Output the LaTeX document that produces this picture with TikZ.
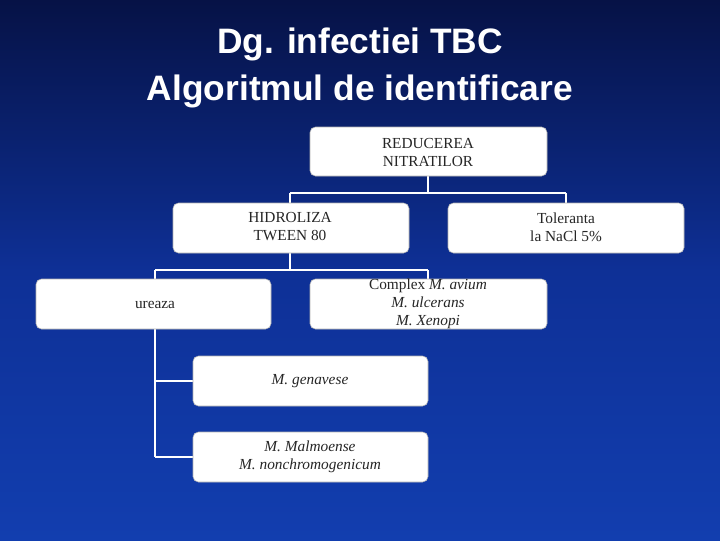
\documentclass[tikz,border=0pt]{standalone}
\usepackage{fontspec}
\setmainfont{Liberation Serif}
\newfontfamily\titlefont{Liberation Sans}
\begin{document}
\begin{tikzpicture}[x=0.75pt,y=-0.75pt,
  box/.style={draw=gray!60,fill=white,rounded corners=4pt,line width=0.4pt},
  lbl/.style={align=center,font=\fontsize{11.5}{13.5}\selectfont,text=black!85},
  conn/.style={draw=white,line width=2.2pt}]
\shade[top color={rgb,255:red,6;green,18;blue,70},bottom color={rgb,255:red,18;green,62;blue,175},middle color={rgb,255:red,14;green,48;blue,150}] (0,0) rectangle (720,540);
\useasboundingbox (0,0) rectangle (720,540);
\node[text=white,align=center,font=\titlefont\bfseries\fontsize{26.5}{35}\selectfont] (title) at (360,68) {Dg. infectiei TBC\\Algoritmul de identificare};
% connectors
\coordinate (j1) at (428,193);
\coordinate (j1l) at (290,193);
\coordinate (j1r) at (566,193);
\coordinate (j2) at (290,270);
\coordinate (j2l) at (155,270);
\coordinate (j2r) at (428,270);
\coordinate (g) at (155,381);
\coordinate (m) at (155,457);
\draw[conn] (428,176) -- (j1);
\draw[conn] (j1l) -- (j1r);
\draw[conn] (j1l) -- (290,203);
\draw[conn] (j1r) -- (566,203);
\draw[conn] (290,253) -- (j2);
\draw[conn] (j2l) -- (j2r);
\draw[conn] (j2l) -- (155,279);
\draw[conn] (j2r) -- (428,279);
\draw[conn] (155,329) -- (m);
\draw[conn] (g) -- (193,381);
\draw[conn] (m) -- (193,457);
% boxes
\draw[box] (310,127) rectangle (547,176);
\node[lbl] (red) at (428,152) {REDUCEREA\\NITRATILOR};
\draw[box] (173,203) rectangle (409,253);
\node[lbl] (hid) at (290,227) {HIDROLIZA\\TWEEN 80};
\draw[box] (448,203) rectangle (684,253);
\node[lbl] (tol) at (566,227) {Toleranta\\la NaCl 5\%};
\draw[box] (36,279) rectangle (271,329);
\node[lbl] (ure) at (155,305) {ureaza};
\draw[box] (310,279) rectangle (547,329);
\node[lbl] (cpx) at (428,304) {Complex \textit{M. avium}\\\textit{M. ulcerans}\\\textit{M. Xenopi}};
\draw[box] (193,356) rectangle (428,406);
\node[lbl] (gen) at (310,381) {\textit{M. genavese}};
\draw[box] (193,432) rectangle (428,482);
\node[lbl] (mal) at (310,457) {\textit{M. Malmoense}\\\textit{M. nonchromogenicum}};
\end{tikzpicture}
\end{document}
